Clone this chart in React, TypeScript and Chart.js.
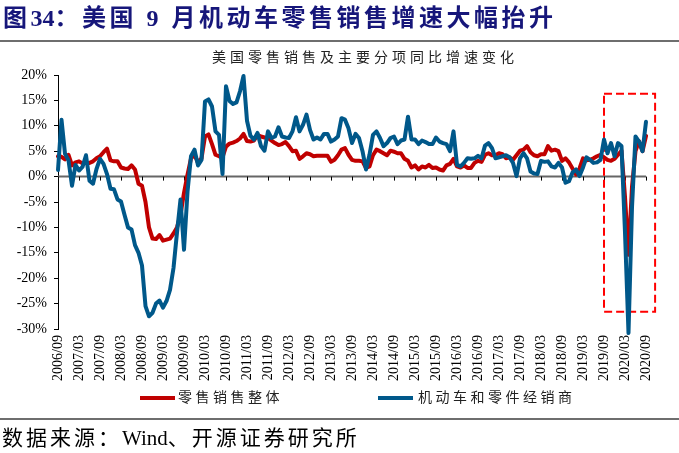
import React, { useEffect, useRef } from "react";
import { Chart, registerables } from "chart.js";

Chart.register(...registerables);

// ---- categories: monthly, 2006/09 .. 2020/09 ----
const months: string[] = [];
for (let y = 2006, m = 9; y < 2020 || (y === 2020 && m <= 9); ) {
  months.push(`${y}/${String(m).padStart(2, "0")}`);
  m++;
  if (m > 12) { m = 1; y++; }
}
const tickEvery = 6;

// ---- series (YoY %) ----
const retailTotal: number[] = [
  4.0, 3.9, 3.4, 4.3, 2.2, 2.8, 3.0, 2.6, 2.7, 2.7, 3.0, 3.6,
  4.0, 4.8, 5.5, 3.2, 3.0, 3.0, 1.8, 1.6, 1.5, 2.2, 1.4, -1.4,
  -1.8, -5.0, -10.0, -12.2, -12.3, -11.5, -12.6, -12.4, -12.2, -11.2, -10.0, -7.5,
  -3.2, 0.4, 3.6, 4.3, 2.7, 3.6, 7.9, 8.3, 6.4, 4.3, 4.0, 3.8,
  5.9, 6.5, 6.7, 7.0, 7.5, 8.4, 7.0, 6.9, 7.1, 8.2, 7.9, 7.7,
  7.6, 7.1, 6.6, 6.2, 6.4, 6.8, 6.0, 5.0, 5.1, 3.5, 4.0, 4.6,
  4.4, 4.0, 4.1, 4.1, 4.1, 4.1, 2.9, 3.3, 4.2, 5.3, 5.6, 4.3,
  3.3, 3.1, 3.1, 3.0, 1.7, 2.0, 4.2, 5.3, 5.0, 4.6, 4.2, 5.1,
  4.9, 4.6, 4.6, 3.5, 3.1, 1.8, 2.2, 1.4, 2.0, 1.8, 2.3, 1.7,
  1.8, 1.4, 1.2, 2.2, 2.5, 3.5, 2.0, 1.8, 2.2, 1.7, 1.7, 2.7,
  3.1, 2.9, 4.3, 4.6, 4.2, 4.2, 4.6, 4.4, 3.6, 3.8, 3.3, 4.2,
  5.1, 5.3, 6.0, 4.8, 4.2, 4.0, 4.4, 4.4, 6.0, 5.1, 5.3, 5.0,
  3.1, 3.6, 2.8, 1.6, 0.4, 1.6, 3.6, 3.2, 3.3, 3.6, 4.0, 4.3,
  3.8, 3.3, 3.1, 3.5, 4.3, 5.1, -4.0, -15.4, -2.0, 5.0, 7.0, 5.0, 8.0,
];

const autoDealers: number[] = [
  1.3, 11.2, 4.5, 3.2, -1.8, 2.3, 1.2, 1.9, 4.2, -0.8, -1.4, 1.5,
  3.5, 2.5, 0.5, -2.4, -2.5, -4.5, -4.9, -7.5, -10.0, -10.4, -13.5, -15.0,
  -17.5, -25.5, -27.5, -26.8, -25.0, -24.4, -25.8, -24.5, -22.3, -18.0, -11.0, -4.5,
  -14.4, -3.0, 4.0, 5.3, 2.2, 3.3, 14.8, 15.2, 13.8, 8.9, 8.2, 0.5,
  17.8, 14.9, 14.3, 14.6, 16.8, 19.8, 11.0, 8.0, 7.3, 8.6, 6.0, 5.1,
  8.9, 7.6, 7.9, 9.7, 7.9, 7.7, 7.6, 8.9, 11.7, 8.9, 10.2, 12.2,
  9.2, 7.3, 7.7, 7.3, 8.4, 8.4, 6.9, 7.3, 7.9, 11.5, 11.2, 9.5,
  6.6, 8.4, 7.6, 5.0, 1.4, 4.3, 8.2, 8.9, 7.6, 6.0, 6.6, 7.6,
  7.9, 6.4, 7.1, 7.3, 11.8, 7.3, 7.3, 6.4, 7.1, 6.8, 6.4, 6.4,
  7.7, 6.9, 6.6, 6.4, 5.0, 8.9, 2.3, 2.0, 2.7, 3.6, 3.5, 3.6,
  4.1, 3.6, 6.1, 6.6, 5.6, 3.6, 3.8, 4.0, 4.2, 3.8, 2.7, 0.1,
  3.6, 4.6, 3.6, 1.0, 0.6, 0.5, 3.1, 2.9, 3.0, 2.0, 1.8, 2.7,
  1.8, -1.2, -0.9, 0.8, 1.4, 0.1, 1.8, 3.8, 3.3, 2.7, 2.8, 3.3,
  7.3, 4.6, 6.6, 4.0, 6.6, 6.0, -11.0, -30.8, -6.0, 7.9, 6.9, 5.0, 10.8,
];

const seriesNames = ["零售销售整体", "机动车和零件经销商"];
const seriesColors = ["#C00000", "#00588A"];

// y axis
const yMin = -30;
const yMax = 20;
const yStep = 5;

// highlighted region (category index, value %)
const boxXFrom = 156;
const boxXTo = 170.6;
const boxYTop = 16.3;
const boxYBottom = -26.6;

const serif = "'Liberation Serif', 'Noto Sans CJK SC', serif";
const cjk = "'Liberation Serif', 'Noto Sans CJK SC', sans-serif";

const overlayPlugin = {
  id: "zeroAxisAndBox",
  beforeDatasetsDraw(chart: any) {
    const { ctx, chartArea, scales } = chart;
    const x = scales.x;
    const y = scales.y;
    const y0 = y.getPixelForValue(0);
    ctx.save();
    ctx.strokeStyle = "#666666";
    ctx.lineWidth = 2;
    ctx.beginPath();
    ctx.moveTo(chartArea.left, y0);
    ctx.lineTo(chartArea.right, y0);
    ctx.stroke();
    ctx.strokeStyle = "#000";
    ctx.lineWidth = 1;
    ctx.beginPath();
    for (let i = 0; i < months.length; i += tickEvery) {
      const px = Math.round(x.getPixelForValue(i)) + 0.5;
      ctx.moveTo(px, y0);
      ctx.lineTo(px, y0 + 4);
    }
    ctx.stroke();
    const l = x.getPixelForValue(boxXFrom);
    const r = x.getPixelForValue(boxXTo);
    const t = y.getPixelForValue(boxYTop);
    const b = y.getPixelForValue(boxYBottom);
    ctx.strokeStyle = "#FF0000";
    ctx.lineWidth = 2;
    ctx.setLineDash([8, 4]);
    ctx.strokeRect(l, t, r - l, b - t);
    ctx.restore();
  },
};

export default function App() {
  const ref = useRef<HTMLCanvasElement | null>(null);

  useEffect(() => {
    if (!ref.current) return;
    const chart = new Chart(ref.current, {
      type: "line",
      data: {
        labels: months,
        datasets: [
          {
            label: seriesNames[1],
            data: autoDealers,
            borderColor: seriesColors[1],
            backgroundColor: seriesColors[1],
            borderWidth: 4,
            pointRadius: 0,
            tension: 0,
            borderJoinStyle: "round",
            borderCapStyle: "round",
            order: 0,
            clip: { left: 5, top: 5, right: 5, bottom: 10 },
          } as any,
          {
            label: seriesNames[0],
            data: retailTotal,
            borderColor: seriesColors[0],
            backgroundColor: seriesColors[0],
            borderWidth: 4,
            pointRadius: 0,
            tension: 0,
            borderJoinStyle: "round",
            borderCapStyle: "round",
            order: 1,
          } as any,
        ],
      },
      options: {
        animation: false,
        responsive: false,
        devicePixelRatio: 1,
        layout: { padding: { left: 0, top: 75, right: 33, bottom: 64 } },
        plugins: {
          legend: { display: false },
          title: { display: false },
          tooltip: { enabled: false },
        },
        scales: {
          x: {
            type: "category",
            offset: false,
            grid: { display: false, drawTicks: false },
            border: { display: false },
            ticks: {
              autoSkip: false,
              minRotation: 90,
              maxRotation: 90,
              padding: 6,
              color: "#000",
              font: { family: serif, size: 14 },
              callback: (_v: any, i: number) => (i % tickEvery === 0 ? months[i] : ""),
            },
            afterFit: (s: any) => { s.height = 60; },
          },
          y: {
            min: yMin,
            max: yMax,
            ticks: {
              stepSize: yStep,
              padding: 7,
              color: "#000",
              font: { family: serif, size: 14 },
              callback: (v: any) => `${v}%`,
            },
            grid: { drawOnChartArea: false, drawTicks: true, tickLength: 4, color: "#000", lineWidth: 1 },
            border: { display: true, color: "#000", width: 1 },
            afterFit: (s: any) => { s.width = 58; },
          },
        },
      } as any,
      plugins: [overlayPlugin],
    });
    return () => chart.destroy();
  }, []);

  const noSp = { letterSpacing: 0 };

  return (
    <div style={{ position: "fixed", left: 0, top: 0, width: 679, height: 453, background: "#fff", overflow: "hidden" }}>
      <canvas ref={ref} width={679} height={453} style={{ position: "absolute", left: 0, top: 0, width: 679, height: 453 }} />
      <div style={{ position: "absolute", left: 3, top: 4, whiteSpace: "nowrap", font: `bold 24px ${cjk}`, lineHeight: "28px", color: "#16167A", letterSpacing: 3.5 }}>
        图<span style={noSp}>34</span>：美国 9 月机动车零售销售增速大幅抬升
      </div>
      <div style={{ position: "absolute", left: 0, top: 40, width: 679, height: 2, background: "#6e6e6e" }} />
      <div style={{ position: "absolute", left: 212, top: 50, whiteSpace: "nowrap", font: `14px ${cjk}`, lineHeight: "16px", color: "#222", letterSpacing: 4 }}>
        美国零售销售及主要分项同比增速变化
      </div>
      <div style={{ position: "absolute", left: 140, top: 396, width: 35, height: 4, background: seriesColors[0] }} />
      <div style={{ position: "absolute", left: 178, top: 390, whiteSpace: "nowrap", font: `14px ${cjk}`, lineHeight: "16px", color: "#222", letterSpacing: 3.5 }}>
        {seriesNames[0]}
      </div>
      <div style={{ position: "absolute", left: 378, top: 396, width: 35, height: 4, background: seriesColors[1] }} />
      <div style={{ position: "absolute", left: 418, top: 390, whiteSpace: "nowrap", font: `14px ${cjk}`, lineHeight: "16px", color: "#222", letterSpacing: 3.5 }}>
        {seriesNames[1]}
      </div>
      <div style={{ position: "absolute", left: 0, top: 418, width: 679, height: 2, background: "#6e6e6e" }} />
      <div style={{ position: "absolute", left: 2, top: 425, whiteSpace: "nowrap", font: `21px ${cjk}`, lineHeight: "26px", color: "#000", letterSpacing: 3 }}>
        数据来源：<span style={noSp}>Wind</span>、开源证券研究所
      </div>
    </div>
  );
}
